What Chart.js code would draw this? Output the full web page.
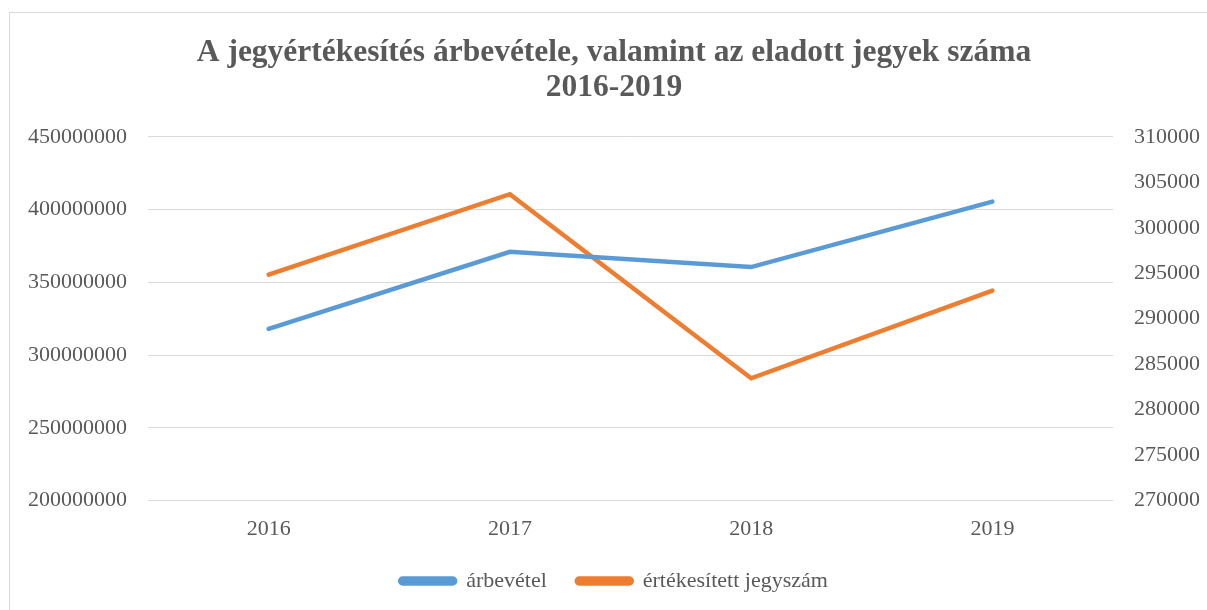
<!DOCTYPE html>
<html>
<head>
<meta charset="utf-8">
<script src="https://cdn.jsdelivr.net/npm/chart.js@4/dist/chart.umd.min.js"></script>
<style>
  html, body { margin: 0; padding: 0; background: #ffffff; }
  #wrap { position: relative; width: 1207px; height: 610px; overflow: hidden; }
  #frame { position: absolute; left: 9px; top: 12px; width: 1300px; height: 700px;
           border-left: 1px solid #d9d9d9; border-top: 1px solid #d9d9d9; }
  #c { position: absolute; left: 0; top: 0; }
</style>
</head>
<body>
<div id="wrap">
  <div id="frame"></div>
  <canvas id="c" width="1207" height="610"></canvas>
</div>
<script>
const categories = ["2016", "2017", "2018", "2019"];
const revenue = [318000000, 371000000, 360500000, 405500000];
const tickets = [294850, 303700, 283450, 293100];
const seriesNames = ["árbevétel", "értékesített jegyszám"];
const titleLines = ["A jegyértékesítés árbevétele, valamint az eladott jegyek száma", "2016-2019"];

const FONT = "'Liberation Serif', 'Times New Roman', serif";
const TXT = "#595959";
const plain = (v) => String(v);

new Chart(document.getElementById("c"), {
  type: "line",
  data: {
    labels: categories,
    datasets: [
      { label: seriesNames[0], data: revenue, yAxisID: "y",
        borderColor: "#5B9BD5", backgroundColor: "#5B9BD5",
        borderWidth: 4.5, pointRadius: 0, tension: 0, borderCapStyle: "round" },
      { label: seriesNames[1], data: tickets, yAxisID: "y1",
        borderColor: "#ED7D31", backgroundColor: "#ED7D31",
        borderWidth: 4.5, pointRadius: 0, tension: 0, borderCapStyle: "round" }
    ]
  },
  options: {
    responsive: false,
    animation: false,
    layout: { padding: { left: 21, right: 0, top: 0, bottom: 8 } },
    plugins: {
      title: {
        display: true, text: titleLines, color: TXT,
        font: { family: FONT, size: 31.5, weight: "bold", lineHeight: 1.11 },
        padding: { top: 35, bottom: 32 }
      },
      legend: {
        position: "bottom",
        labels: {
          color: TXT, font: { family: FONT, size: 22 },
          boxWidth: 55, boxHeight: 5, padding: 30,
          useBorderRadius: true, borderRadius: 2.5
        }
      },
      tooltip: { enabled: false }
    },
    scales: {
      x: {
        offset: true,
        grid: { display: false, drawTicks: false },
        border: { display: false },
        ticks: { color: TXT, font: { family: FONT, size: 22 }, padding: 16 },
        afterFit: (s) => { s.height = 39.5; }
      },
      y: {
        position: "left", min: 200000000, max: 450000000,
        ticks: { stepSize: 50000000, color: TXT, font: { family: FONT, size: 22 }, padding: 21, callback: plain },
        grid: { color: "#d9d9d9", lineWidth: 1, drawTicks: false },
        border: { display: false },
        afterFit: (s) => { s.width = 127; }
      },
      y1: {
        position: "right", min: 270000, max: 310000,
        ticks: { stepSize: 5000, color: TXT, font: { family: FONT, size: 22 }, padding: 21, callback: plain },
        grid: { display: false, drawTicks: false },
        border: { display: false },
        afterFit: (s) => { s.width = 94; }
      }
    }
  }
});
</script>
</body>
</html>
